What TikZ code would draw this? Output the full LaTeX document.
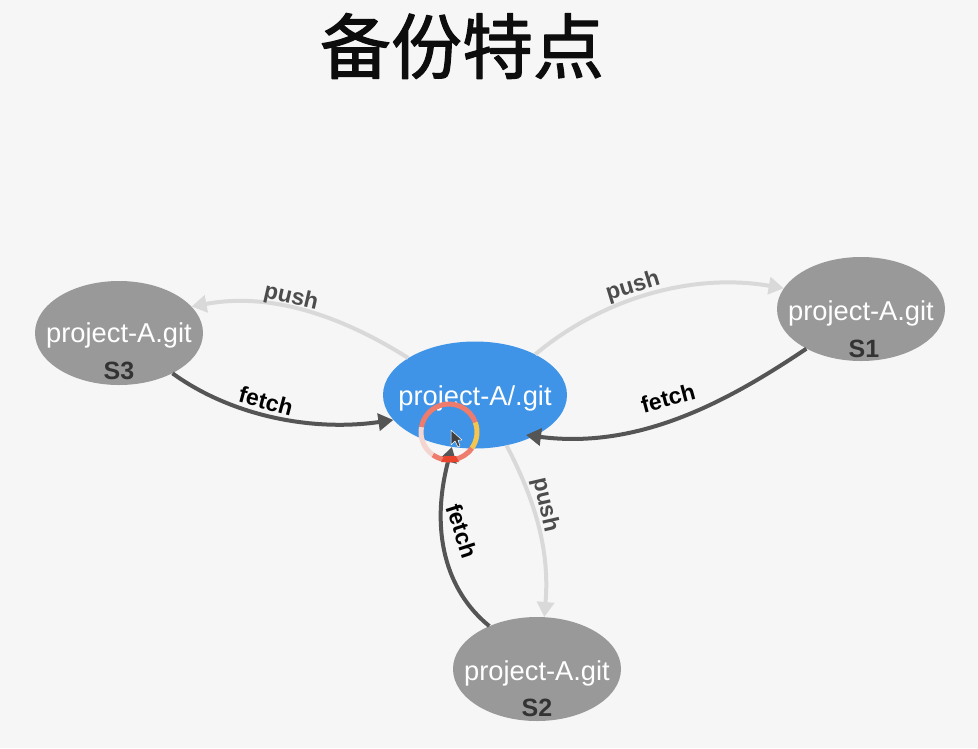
\documentclass[tikz,border=0pt]{standalone}
\usepackage{fontspec}
\setsansfont{Liberation Sans}
\newfontfamily\cjk[FakeBold=1.6]{Noto Sans CJK SC}
\usetikzlibrary{arrows.meta,shapes.geometric}
\definecolor{pagebg}{HTML}{F6F6F6}
\definecolor{repogray}{HTML}{999999}
\definecolor{localblue}{HTML}{3F94E8}
\definecolor{pushgray}{HTML}{D9D9D9}
\definecolor{fetchgray}{HTML}{555555}
\definecolor{ringred}{HTML}{EE7B6C}
\definecolor{ringpale}{HTML}{F5D5D0}
\definecolor{ringyellow}{HTML}{F4C64E}
\definecolor{tipred}{HTML}{E8452C}
\tikzset{
  repo/.style={ellipse,fill=repogray,minimum width=168pt,minimum height=104pt,inner sep=0pt},
  pushline/.style={draw=pushgray,line width=4pt,-{Triangle[length=15pt,width=17pt]}},
  fetchline/.style={draw=fetchgray,line width=4pt,-{Triangle[length=15pt,width=17pt]}},
  reponame/.style={text=white,font=\sffamily\fontsize{27.3}{27.3}\selectfont},
  tag/.style={font=\sffamily\bfseries\fontsize{25}{25}\selectfont,text=black!80},
  lbl/.style={font=\sffamily\bfseries\fontsize{23}{23}\selectfont,inner sep=0pt},
  ringarc/.style={line width=5pt}
}
\begin{document}
\begin{tikzpicture}[x=1pt,y=-1pt,line cap=butt,line join=round]
  \fill[pagebg] (0,0) rectangle (978,748);
  \useasboundingbox (0,0) rectangle (978,748);
  \node[font=\cjk\fontsize{71}{71}\selectfont,text=black!95] (title) at (462,46) {备份特点};
  % ellipses
  \node[ellipse,fill=localblue,minimum width=184pt,minimum height=107pt,inner sep=0pt] (local) at (475,395) {};
  \node[repo] (s3) at (119,333) {};
  \node[repo] (s1) at (861,309) {};
  \node[repo] (s2) at (537,669) {};
  % texts
  \node[reponame] (localname) at (475,398) {project-A/.git};
  \node[reponame] (s3name) at (119,335) {project-A.git};
  \node[reponame] (s1name) at (861,313) {project-A.git};
  \node[reponame] (s2name) at (537,673) {project-A.git};
  \node[tag] (s3tag) at (119,371) {S3};
  \node[tag] (s1tag) at (864,349) {S1};
  \node[tag] (s2tag) at (537,708) {S2};
  % arrows
  \coordinate (s1tip) at (526,435);
  \draw[pushline] (local.151) .. controls (340,315) and (270,292) .. (s3.20);
  \draw[pushline] (local.34) .. controls (600,300) and (690,272) .. (s1.165);
  \draw[pushline] (local.-58) .. controls (535,500) and (550,550) .. (s2.82);
  \draw[fetchline] (s1.216) .. controls (730,400) and (640,450) .. (s1tip);
  \draw[fetchline] (s3.-37) .. controls (230,415) and (310,432) .. (local.197);
  \draw[fetchline] (s2.138) .. controls (445,590) and (430,530) .. (local.246);
  % labels
  \node[lbl,text=black!70,rotate=-13] (pushs3) at (291,298) {push};
  \node[lbl,text=black!70,rotate=17] (pushs1) at (633,287) {push};
  \node[lbl,text=black!70,rotate=-77] (pushs2) at (545,505) {push};
  \node[lbl,text=black,rotate=-15] (fetchs3) at (266,401) {fetch};
  \node[lbl,text=black,rotate=15] (fetchs1) at (668,398) {fetch};
  \node[lbl,text=black,rotate=-72] (fetchs2) at (462,531) {fetch};
  % click ring and pointer
  \coordinate (ring) at (449,432);
  \draw[ringarc,ringred] (ring) ++(20:28pt) arc[start angle=20,end angle=170,radius=28pt];
  \draw[ringarc,ringpale] (ring) ++(170:28pt) arc[start angle=170,end angle=235,radius=28pt];
  \draw[ringarc,ringred] (ring) ++(235:28pt) arc[start angle=235,end angle=325,radius=28pt];
  \draw[ringarc,ringyellow] (ring) ++(325:28pt) arc[start angle=325,end angle=380,radius=28pt];
  \fill[tipred] (441,462) -- (459,462) -- (456,456) -- (444,456) -- cycle;
  \fill[black!75,draw=white,line width=.5pt] (451,430) -- (451,445) -- (455,441) -- (458,447) -- (460,446) -- (458,440) -- (462,440) -- cycle;
\end{tikzpicture}
\end{document}
